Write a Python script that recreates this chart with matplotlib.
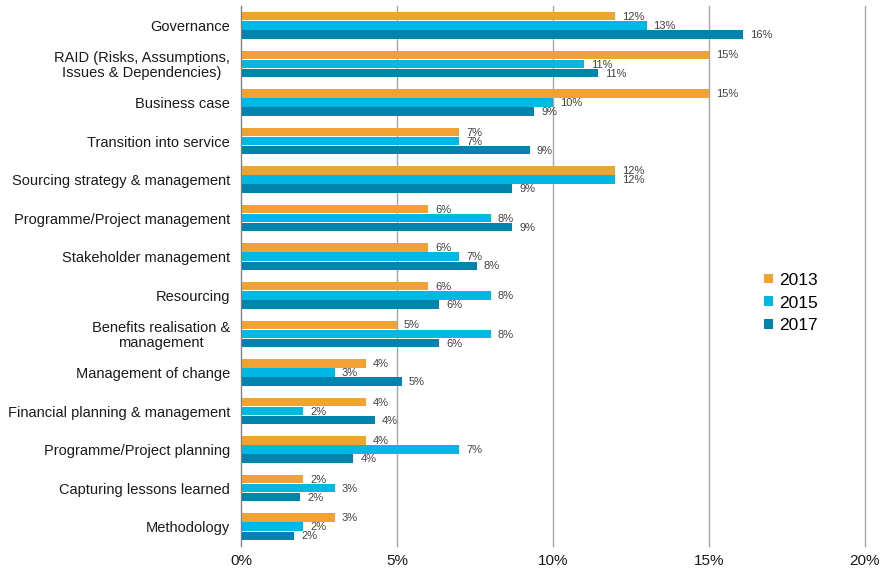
import numpy as np
import matplotlib.pyplot as plt

plt.rcParams['font.family'] = ['Liberation Sans', 'DejaVu Sans']

# data (percent)
categories = [
    "Governance",
    "RAID (Risks, Assumptions,\nIssues & Dependencies)",
    "Business case",
    "Transition into service",
    "Sourcing strategy & management",
    "Programme/Project management",
    "Stakeholder management",
    "Resourcing",
    "Benefits realisation &\nmanagement",
    "Management of change",
    "Financial planning & management",
    "Programme/Project planning",
    "Capturing lessons learned",
    "Methodology",
]
years = ["2013", "2015", "2017"]
values_2013 = [12.0, 15.0, 15.0, 7.0, 12.0, 6.0, 6.0, 6.0, 5.0, 4.0, 4.0, 4.0, 2.0, 3.0]
values_2015 = [13.0, 11.0, 10.0, 7.0, 12.0, 8.0, 7.0, 8.0, 8.0, 3.0, 2.0, 7.0, 3.0, 2.0]
values_2017 = [16.1, 11.45, 9.4, 9.25, 8.7, 8.7, 7.55, 6.35, 6.35, 5.15, 4.3, 3.6, 1.9, 1.7]
colors = ["#F0A330", "#00B9E2", "#0084AE"]


def main():
    fig = plt.figure(figsize=(8.86, 5.70), dpi=100)
    ax = fig.add_axes([241 / 886, 24 / 570, 624 / 886, 540 / 570])

    y = np.arange(len(categories))
    h = 0.22
    series = [values_2013, values_2015, values_2017]
    for i, (vals, col, yr) in enumerate(zip(series, colors, years)):
        pos = y + (i - 1) * (h + 0.015)
        bars = ax.barh(pos, vals, height=h, color=col, label=yr, zorder=3, linewidth=0)
        for b, v in zip(bars, vals):
            ax.annotate(f"{round(v):.0f}%", (v, b.get_y() + h / 2),
                        xytext=(5, -0.5), textcoords="offset points",
                        ha="left", va="center", fontsize=8, color="#404040")

    ax.set_ylim(len(categories) - 0.5, -0.5)
    ax.set_xlim(0, 20)
    ax.set_xticks([0, 5, 10, 15, 20])
    ax.set_xticklabels(["0%", "5%", "10%", "15%", "20%"], fontsize=11, color="#1a1a1a")
    ax.set_yticks(y)
    ax.set_yticklabels(categories, fontsize=10.5, color="#1a1a1a", linespacing=1.1,
                       multialignment="center")
    ax.tick_params(axis="both", length=0)
    ax.tick_params(axis="y", pad=8)
    ax.tick_params(axis="x", pad=6)

    ax.grid(axis="x", color="#A6A6A6", linewidth=1, zorder=0)
    for line in ax.get_xgridlines():
        line.set_clip_on(False)
    for s in ["top", "right", "bottom"]:
        ax.spines[s].set_visible(False)
    ax.spines["left"].set_color("#808080")
    ax.spines["left"].set_zorder(4)

    fig.legend(loc="center left", bbox_to_anchor=(764 / 886, 1 - 303 / 570),
               frameon=False, fontsize=12.5, handlelength=0.5, handleheight=0.5,
               handletextpad=0.35, labelspacing=0.45, borderpad=0, borderaxespad=0)

    fig.savefig("out.png", dpi=100)


if __name__ == "__main__":
    main()
